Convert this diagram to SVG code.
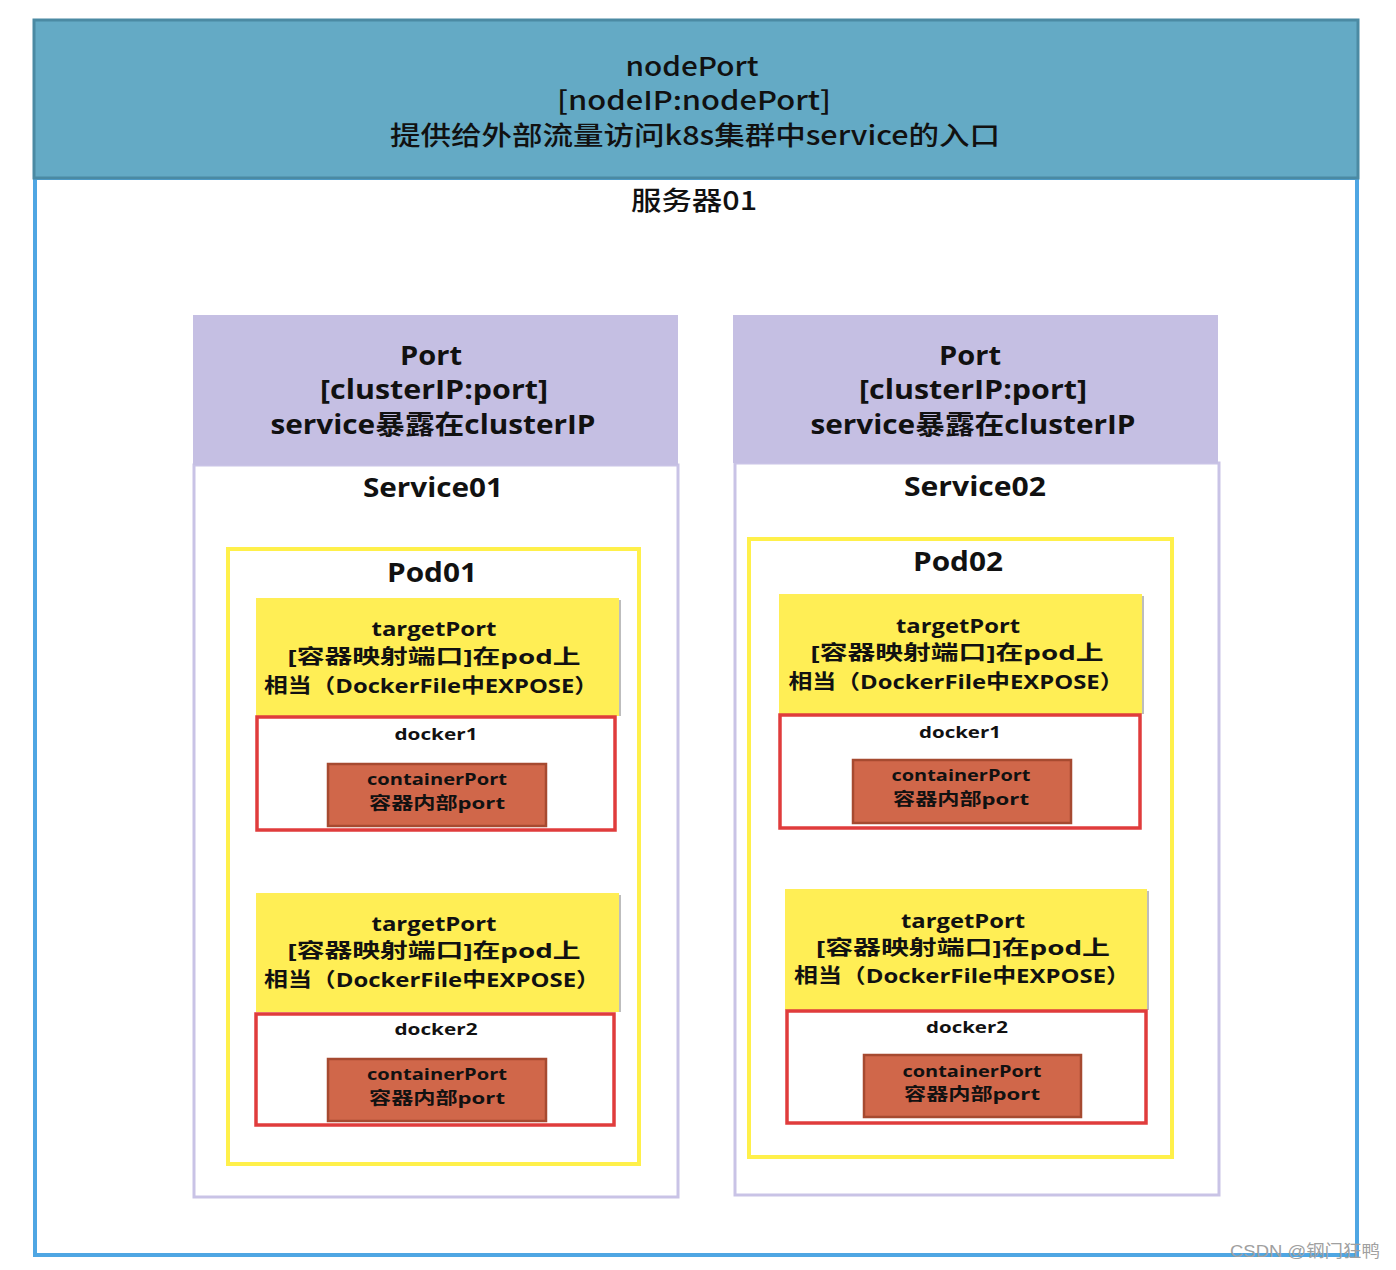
<svg xmlns="http://www.w3.org/2000/svg" width="1396" height="1270" viewBox="0 0 1396 1270">
<style>
text{font-family:"Open Sans","Noto Sans CJK SC",sans-serif;text-anchor:middle;fill:#111;}
.hdr{font-family:"Noto Sans CJK SC","Open Sans",sans-serif;font-size:26px;font-weight:500;}
.b28{font-size:26px;font-weight:bold;}
.b22{font-size:20px;font-weight:bold;}
.s18{font-size:16.5px;font-weight:bold;}
.svc{fill:#fff;stroke:#C9C3E6;stroke-width:3;}
.svch{fill:#C5BFE3;}
.pod{fill:#fff;stroke:#FFF04A;stroke-width:4;}
.tp{fill:#FFEE55;}
.tpsh{fill:none;stroke:#BDBDBD;stroke-width:2;}
.dk{fill:#fff;stroke:#E03C3C;stroke-width:3.5;}
.cp{fill:#D0674A;stroke:#A64A30;stroke-width:2.5;}
</style>
<rect width="1396" height="1270" fill="#fff"/>
<g id="server01">
<rect x="35" y="178" width="1322" height="1077" fill="#fff" stroke="#4FA6E3" stroke-width="4"/>
<rect x="34" y="20" width="1324" height="158" fill="#64AAC5" stroke="#4B8AA3" stroke-width="3"/>
<text class="hdr" x="692" y="76" textLength="133" lengthAdjust="spacingAndGlyphs">nodePort</text>
<text class="hdr" x="694" y="110" textLength="274" lengthAdjust="spacingAndGlyphs">[nodeIP:nodePort]</text>
<text class="hdr" x="695" y="145" textLength="610" lengthAdjust="spacingAndGlyphs">提供给外部流量访问k8s集群中service的入口</text>
<text class="hdr" x="694" y="210" textLength="126" lengthAdjust="spacingAndGlyphs" font-weight="bold">服务器01</text>
</g>
<g id="service01">
<rect class="svc" x="194" y="465" width="484" height="732"/>
<rect class="svch" x="193" y="315" width="485" height="150"/>
<text class="b28" x="431" y="365" textLength="62" lengthAdjust="spacingAndGlyphs">Port</text>
<text class="b28" x="434" y="399" textLength="228" lengthAdjust="spacingAndGlyphs">[clusterIP:port]</text>
<text class="b28" x="433" y="434" textLength="325" lengthAdjust="spacingAndGlyphs">service暴露在clusterIP</text>
<text class="b28" x="433" y="497" textLength="140" lengthAdjust="spacingAndGlyphs">Service01</text>
</g>
<g id="pod01">
<rect class="pod" x="228" y="549" width="411" height="615"/>
<text class="b28" x="432" y="582" textLength="90" lengthAdjust="spacingAndGlyphs">Pod01</text>
</g>
<g id="pod01-target1">
<line class="tpsh" x1="620" y1="600" x2="620" y2="716"/>
<rect class="tp" x="256" y="598" width="363" height="118"/>
<text class="b22" x="434" y="636" textLength="125" lengthAdjust="spacingAndGlyphs">targetPort</text>
<text class="b22" x="434" y="664" textLength="293" lengthAdjust="spacingAndGlyphs">[容器映射端口]在pod上</text>
<text class="b22" x="431" y="693" textLength="334" lengthAdjust="spacingAndGlyphs">相当（DockerFile中EXPOSE）</text>
</g>
<g id="pod01-docker1">
<rect class="dk" x="257" y="717" width="358" height="113"/>
<text class="s18" x="436" y="740" textLength="83" lengthAdjust="spacingAndGlyphs">docker1</text>
<rect class="cp" x="328" y="764" width="218" height="62"/>
<text class="s18" x="437" y="785" textLength="140" lengthAdjust="spacingAndGlyphs">containerPort</text>
<text class="s18" x="437" y="809" textLength="136" lengthAdjust="spacingAndGlyphs">容器内部port</text>
</g>
<g id="pod01-target2">
<line class="tpsh" x1="620" y1="895" x2="620" y2="1012"/>
<rect class="tp" x="256" y="893" width="363" height="119"/>
<text class="b22" x="434" y="931" textLength="125" lengthAdjust="spacingAndGlyphs">targetPort</text>
<text class="b22" x="434" y="958" textLength="293" lengthAdjust="spacingAndGlyphs">[容器映射端口]在pod上</text>
<text class="b22" x="432" y="987" textLength="336" lengthAdjust="spacingAndGlyphs">相当（DockerFile中EXPOSE）</text>
</g>
<g id="pod01-docker2">
<rect class="dk" x="256" y="1014" width="358" height="111"/>
<text class="s18" x="436" y="1035" textLength="83" lengthAdjust="spacingAndGlyphs">docker2</text>
<rect class="cp" x="328" y="1059" width="218" height="62"/>
<text class="s18" x="437" y="1080" textLength="140" lengthAdjust="spacingAndGlyphs">containerPort</text>
<text class="s18" x="437" y="1104" textLength="136" lengthAdjust="spacingAndGlyphs">容器内部port</text>
</g>
<g id="service02">
<rect class="svc" x="735" y="463" width="484" height="732"/>
<rect class="svch" x="733" y="315" width="485" height="148"/>
<text class="b28" x="970" y="365" textLength="62" lengthAdjust="spacingAndGlyphs">Port</text>
<text class="b28" x="973" y="399" textLength="228" lengthAdjust="spacingAndGlyphs">[clusterIP:port]</text>
<text class="b28" x="973" y="434" textLength="325" lengthAdjust="spacingAndGlyphs">service暴露在clusterIP</text>
<text class="b28" x="975" y="496" textLength="142" lengthAdjust="spacingAndGlyphs">Service02</text>
</g>
<g id="pod02">
<rect class="pod" x="749" y="539" width="423" height="618"/>
<text class="b28" x="958" y="571" textLength="90" lengthAdjust="spacingAndGlyphs">Pod02</text>
</g>
<g id="pod02-target1">
<line class="tpsh" x1="1143" y1="596" x2="1143" y2="714"/>
<rect class="tp" x="779" y="594" width="363" height="120"/>
<text class="b22" x="958" y="633" textLength="124" lengthAdjust="spacingAndGlyphs">targetPort</text>
<text class="b22" x="957" y="660" textLength="293" lengthAdjust="spacingAndGlyphs">[容器映射端口]在pod上</text>
<text class="b22" x="956" y="689" textLength="335" lengthAdjust="spacingAndGlyphs">相当（DockerFile中EXPOSE）</text>
</g>
<g id="pod02-docker1">
<rect class="dk" x="780" y="715" width="360" height="113"/>
<text class="s18" x="960" y="738" textLength="82" lengthAdjust="spacingAndGlyphs">docker1</text>
<rect class="cp" x="853" y="760" width="218" height="63"/>
<text class="s18" x="961" y="781" textLength="139" lengthAdjust="spacingAndGlyphs">containerPort</text>
<text class="s18" x="961" y="805" textLength="136" lengthAdjust="spacingAndGlyphs">容器内部port</text>
</g>
<g id="pod02-target2">
<line class="tpsh" x1="1148" y1="891" x2="1148" y2="1010"/>
<rect class="tp" x="785" y="889" width="362" height="121"/>
<text class="b22" x="963" y="928" textLength="124" lengthAdjust="spacingAndGlyphs">targetPort</text>
<text class="b22" x="963" y="955" textLength="294" lengthAdjust="spacingAndGlyphs">[容器映射端口]在pod上</text>
<text class="b22" x="962" y="983" textLength="336" lengthAdjust="spacingAndGlyphs">相当（DockerFile中EXPOSE）</text>
</g>
<g id="pod02-docker2">
<rect class="dk" x="787" y="1011" width="359" height="112"/>
<text class="s18" x="967" y="1033" textLength="82" lengthAdjust="spacingAndGlyphs">docker2</text>
<rect class="cp" x="864" y="1055" width="217" height="62"/>
<text class="s18" x="972" y="1077" textLength="139" lengthAdjust="spacingAndGlyphs">containerPort</text>
<text class="s18" x="972" y="1100" textLength="136" lengthAdjust="spacingAndGlyphs">容器内部port</text>
</g>
<g id="connectors"></g>
<text x="1305" y="1257" style="font-family:'Liberation Sans','Noto Sans CJK SC',sans-serif;font-size:17px;fill:#A0A0A0;font-weight:normal" textLength="150" lengthAdjust="spacingAndGlyphs">CSDN @钢门狂鸭</text>
</svg>
